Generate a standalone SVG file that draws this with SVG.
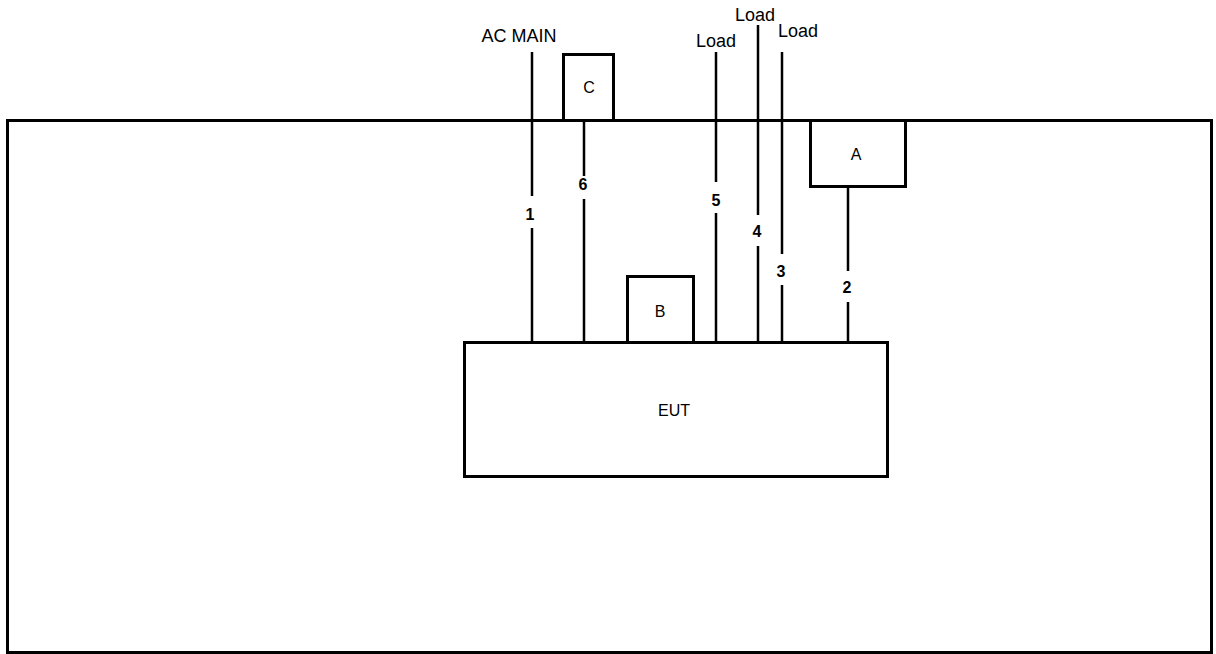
<svg xmlns="http://www.w3.org/2000/svg" width="1216" height="654" viewBox="0 0 1216 654">
<style>
.box{fill:#fff;stroke:#000;stroke-width:3}
.ln{stroke:#000;stroke-width:2.5;fill:none}
.t{font-family:"Liberation Sans",Arial,sans-serif;fill:#000;text-anchor:middle}
.lbl{font-size:16px}
.top{font-size:18px}
.num{font-size:16px;font-weight:bold}
</style>
<rect width="1216" height="654" fill="#fff"/>
<g id="frame"><rect class="box" x="7.5" y="120.5" width="1204" height="532"/></g>
<g id="C"><rect class="box" x="563.5" y="54.5" width="50" height="66"/><text class="t lbl" x="589" y="93">C</text></g>
<g id="A"><rect class="box" x="810.5" y="120.5" width="95" height="66"/><text class="t lbl" x="856" y="160">A</text></g>
<g id="B"><rect class="box" x="627.5" y="276.5" width="66" height="66"/><text class="t lbl" x="660" y="317">B</text></g>
<g id="EUT"><rect class="box" x="464.5" y="342.5" width="423" height="134"/><text class="t lbl" x="674" y="416">EUT</text></g>
<g id="connectors">
<path class="ln" d="M532 52V196M532 228V342"/>
<path class="ln" d="M584 121V176M584 199V342"/>
<path class="ln" d="M716 52V182M716 213V342"/>
<path class="ln" d="M758 25V215M758 246V342"/>
<path class="ln" d="M782 52V254M782 285V342"/>
<path class="ln" d="M848 187V271M848 302V342"/>
</g>
<g id="labels">
<text class="t top" x="519" y="42">AC MAIN</text>
<text class="t top" x="716" y="47">Load</text>
<text class="t top" x="755" y="21">Load</text>
<text class="t top" x="798" y="37">Load</text>
<text class="t num" x="530" y="220">1</text>
<text class="t num" x="583" y="190">6</text>
<text class="t num" x="716" y="206">5</text>
<text class="t num" x="757" y="237">4</text>
<text class="t num" x="781" y="277">3</text>
<text class="t num" x="847" y="293">2</text>
</g>
</svg>
